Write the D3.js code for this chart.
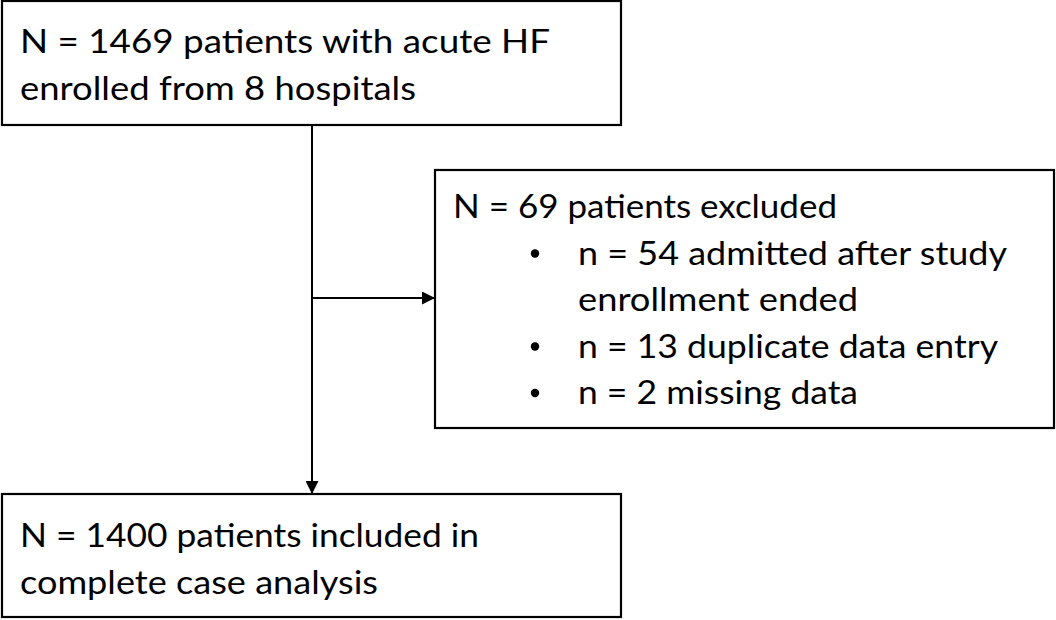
<!DOCTYPE html>
<html>
<head>
<meta charset="utf-8">
<script src="https://cdn.jsdelivr.net/npm/d3@7"></script>
<style>
  html, body { margin: 0; padding: 0; background: #fff; }
  svg { display: block; }
</style>
</head>
<body>
<svg id="chart" width="1056" height="620"></svg>
<script>
// ---- content ----
const enrolledLines = ["N = 1469 patients with acute HF", "enrolled from 8 hospitals"];
const excludedHeader = ["N = 69 patients excluded"];
const exclusionReasons = [
  ["n = 54 admitted after study", "enrollment ended"],
  ["n = 13 duplicate data entry"],
  ["n = 2 missing data"]
];
const includedLines = ["N = 1400 patients included in", "complete case analysis"];

// ---- layout (not data) ----
const W = 1056, H = 620;
const svg = d3.select("#chart");
const font = "Lato, 'Liberation Sans', sans-serif";
const fs = 33.5;
const lineGap = 46.5;

const boxes = {
  top:   {x: 2,   y: 1,   w: 619, h: 124},
  excl:  {x: 435, y: 170, w: 619, h: 258},
  bottom:{x: 2,   y: 494, w: 619, h: 123}
};

// target rendered widths (px)
const widthTargets = {
  "N = 1469 patients with acute HF": 530,
  "enrolled from 8 hospitals": 396,
  "N = 69 patients excluded": 384,
  "n = 54 admitted after study": 429,
  "enrollment ended": 280,
  "n = 13 duplicate data entry": 420,
  "n = 2 missing data": 280,
  "N = 1400 patients included in": 459,
  "complete case analysis": 358
};

const defs = svg.append("defs");
defs.append("marker")
  .attr("id", "arrow")
  .attr("viewBox", "0 0 12 12")
  .attr("refX", 12).attr("refY", 6)
  .attr("markerWidth", 13).attr("markerHeight", 13)
  .attr("markerUnits", "userSpaceOnUse")
  .attr("orient", "auto")
  .append("path")
  .attr("d", "M0,0 L12,6 L0,12 Z")
  .attr("fill", "#000");

// boxes
svg.selectAll("rect.box")
  .data(Object.values(boxes))
  .join("rect")
  .attr("class", "box")
  .attr("x", d => d.x).attr("y", d => d.y)
  .attr("width", d => d.w).attr("height", d => d.h)
  .attr("fill", "#fff")
  .attr("stroke", "#000")
  .attr("stroke-width", 2.2);

function addText(x, y, str) {
  const t = svg.append("text")
    .attr("x", x).attr("y", y)
    .attr("font-family", font)
    .attr("font-size", fs)
    .attr("fill", "#000")
    .text(str);
  const target = widthTargets[str];
  if (target) {
    t.attr("textLength", target).attr("lengthAdjust", "spacingAndGlyphs");
  }
  return t;
}

// top box text
enrolledLines.forEach((s, i) => addText(20, 53 + i * lineGap, s));

// exclusion box
addText(453, 218, excludedHeader[0]);
let row = 1;
const textX = 578, bulletX = 535;
exclusionReasons.forEach(lines => {
  svg.append("circle")
    .attr("cx", bulletX).attr("cy", 218 + row * lineGap - 11)
    .attr("r", 4.2)
    .attr("fill", "#000");
  lines.forEach((s, j) => {
    addText(textX, 218 + (row + j) * lineGap, s);
  });
  row += lines.length;
});

// bottom box
includedLines.forEach((s, i) => addText(20, 547 + i * lineGap, s));

// connectors
const cx = 312;
svg.append("line")
  .attr("x1", cx).attr("y1", boxes.top.y + boxes.top.h)
  .attr("x2", cx).attr("y2", boxes.bottom.y)
  .attr("stroke", "#000").attr("stroke-width", 2)
  .attr("marker-end", "url(#arrow)");

svg.append("line")
  .attr("x1", cx).attr("y1", 298)
  .attr("x2", boxes.excl.x).attr("y2", 298)
  .attr("stroke", "#000").attr("stroke-width", 2)
  .attr("marker-end", "url(#arrow)");
</script>
</body>
</html>
